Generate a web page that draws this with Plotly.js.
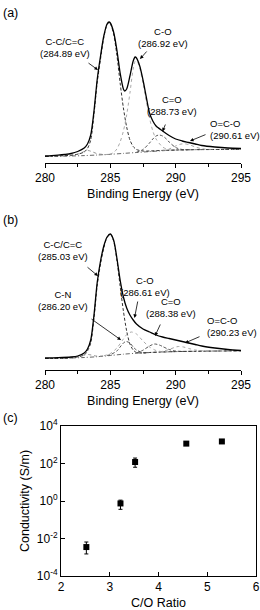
<!DOCTYPE html>
<html><head><meta charset="utf-8">
<script src="https://cdn.plot.ly/plotly-3.0.1.min.js"></script>
<style>html,body{margin:0;padding:0;background:#fff;}#chart{width:260px;height:610px;}</style>
</head><body><div id="chart"></div>
<script>
// ---------- Panel (a) : XPS C1s (intensity, a.u.) ----------
const aEnvE = [280,280.5,281,281.5,282,282.5,283,283.25,283.5,283.75,284,284.25,284.5,284.75,284.9,285,285.25,285.5,285.75,286,286.1,286.25,286.5,286.75,286.9,287,287.25,287.5,287.75,288,288.25,288.5,289,289.5,290,290.5,291,291.5,292,293,294,295];
const aEnvI = [7,7.3,7.8,8.5,9.5,11.5,15,19,28,52,84,107,127,139,141,140,131,113,90,74,72,74,87,102,106,105,97,83,66,50,42,37,32,27.5,24,22,20.5,19,17.5,16,15,14.5];
const aCCE = [280,281,282,282.5,283,283.25,283.5,283.75,284,284.25,284.5,284.75,284.9,285,285.25,285.5,285.75,286,286.25,286.5,286.75,287,287.5,288,289,290,292,295];
const aCCI = [6.5,7,7.8,8.8,11,14.5,23,49,81,104,125.5,138.5,140.5,139.5,129,108,80,55,36,23,16.5,13.5,12,12,12.6,13,13.4,13.7];
const aCOE = [284.5,285,285.25,285.5,285.75,286,286.25,286.5,286.75,286.92,287.1,287.25,287.5,287.75,288,288.25,288.5,289,289.5,290];
const aCOI = [8.3,9,10.5,14,21,32,48,70,94,102,100.5,95,80,62,45,32,24,16,13.2,12.9];
const aCdOE = [287,287.5,288,288.25,288.5,288.73,289,289.25,289.5,290,290.5,291];
const aCdOI = [10.8,13.5,20,24,27,28,27,24.5,21,15.5,13.5,13.2];
const aOCOE = [289,289.5,290,290.3,290.61,291,291.5,292,292.5,293];
const aOCOI = [12.5,14,17,18.6,19.2,18.5,16,14.3,13.6,13.5];
const aLowE = [281.5,282,282.5,283,283.3,283.6,284,284.5,285];
const aLowI = [7.2,7.5,8.8,11.5,12.5,11.3,9.3,8.5,8.7];
const aBgE = [280,282,283,284,285,286,287,288,289,290,291,292,293,295];
const aBgI = [6.5,7,7.4,8,8.7,9.6,10.5,11.4,12.3,12.9,13.2,13.4,13.5,13.7];

// ---------- Panel (b) ----------
const bEnvE = [280,281,282,282.5,283,283.25,283.5,283.75,284,284.25,284.5,284.75,285,285.25,285.5,285.75,286,286.25,286.5,286.75,287,287.5,288,288.5,289,289.5,290,290.5,291,291.5,292,293,294,295];
const bEnvI = [12,12.3,13,14,17,21,30,55,88,109,124,133,136,130,112,90,73,62,55,50,46,41,38,35,33,31.5,30,28.5,27,25.5,24,22,20.5,19.5];
const bCCE = [280,282,283,283.25,283.5,283.75,284,284.25,284.5,284.75,285.03,285.25,285.5,285.75,286,286.25,286.5,286.75,287,287.5,288,290,295];
const bCCI = [11.5,12.1,15,19,27,52,85,106,122,132.5,135.5,129,110,84,59,39,26,20,17.5,17,17.5,18.4,19.2];
const bCNE = [284.75,285,285.5,285.75,286,286.2,286.5,286.75,287,287.5,288];
const bCNI = [14.6,15.3,19,23,27,28.5,27,23,20,17.3,17.5];
const bCOE = [284.5,285,285.5,286,286.3,286.61,287,287.5,288,288.5,289,289.5];
const bCOI = [14.2,16.5,22,31,36,38,36,29,23,19.5,18.3,18.1];
const bCdOE = [287,287.5,288,288.38,288.75,289,289.5,290,290.5,291];
const bCdOI = [17,19.8,24,26,25,23.5,20.5,19,18.6,18.6];
const bOCOE = [288.75,289.5,290,290.23,290.6,291,291.5,292,292.5,293];
const bOCOI = [17.9,20.5,23,23.5,23,21.5,20,19.2,19,19];
const bLowE = [281.5,282,282.5,283,283.3,283.6,284,284.5];
const bLowI = [12,12.3,13.5,15,15.5,14.8,13.8,14];
const bBgE = [280,282,283,284,285,286,287,288,289,290,292,295];
const bBgI = [11.5,12,12.5,13.3,14.5,15.8,16.8,17.5,18,18.4,18.8,19.2];

// ---------- Panel (c) : conductivity vs C/O ----------
const coRatio = [2.52, 3.22, 3.52, 4.57, 5.30];
const conductivity = [3.5e-3, 0.74, 120, 1150, 1500];
const errPlus = [3.0e-3, 0.37, 75, 0, 0];
const errMinus = [2.0e-3, 0.38, 57, 0, 0];
const cTickVals = [1e-4, 1e-2, 1, 1e2, 1e4];
const cTickText = ['10<sup>-4</sup>','10<sup>-2</sup>','10<sup>0</sup>','10<sup>2</sup>','10<sup>4</sup>'];
const xpsTicks = [280, 285, 290, 295];

const W = 260, H = 610;
const FONT = 'Liberation Sans, Arial, Helvetica, sans-serif';
const px = v => v / W, py = v => 1 - v / H;

function line(x, y, xa, ya, color, width, dash) {
  return {x, y, xaxis: xa, yaxis: ya, type: 'scatter', mode: 'lines',
    line: {color, width, dash, shape: 'spline', smoothing: 0.8}, hoverinfo: 'skip', showlegend: false};
}
const traces = [
  line(aBgE, aBgI, 'x', 'y', '#555', 0.9, '4px,2px,1px,2px'),
  line(aLowE, aLowI, 'x', 'y', '#888', 0.9, 'dot'),
  line(aCCE, aCCI, 'x', 'y', '#333', 1, '3px,2px'),
  line(aCOE, aCOI, 'x', 'y', '#aaa', 1, 'dot'),
  line(aCdOE, aCdOI, 'x', 'y', '#444', 0.9, '3px,2px'),
  line(aOCOE, aOCOI, 'x', 'y', '#999', 0.9, 'dot'),
  line(aEnvE, aEnvI, 'x', 'y', '#000', 1.3, 'solid'),

  line(bBgE, bBgI, 'x2', 'y2', '#555', 0.9, '4px,2px,1px,2px'),
  line(bLowE, bLowI, 'x2', 'y2', '#888', 0.9, 'dot'),
  line(bCCE, bCCI, 'x2', 'y2', '#333', 1, '3px,2px'),
  line(bCNE, bCNI, 'x2', 'y2', '#444', 0.9, '3px,2px'),
  line(bCOE, bCOI, 'x2', 'y2', '#aaa', 1, 'dot'),
  line(bCdOE, bCdOI, 'x2', 'y2', '#444', 0.9, '3px,2px'),
  line(bOCOE, bOCOI, 'x2', 'y2', '#999', 0.9, 'dot'),
  line(bEnvE, bEnvI, 'x2', 'y2', '#000', 1.3, 'solid'),

  {x: coRatio, y: conductivity, xaxis: 'x3', yaxis: 'y3', type: 'scatter', mode: 'markers',
   marker: {symbol: 'square', size: 6, color: '#000'},
   error_y: {type: 'data', symmetric: false, array: errPlus, arrayminus: errMinus, color: '#000', thickness: 1, width: 2},
   showlegend: false, hoverinfo: 'skip'}
];

function txt(x, y, t, opts) {
  return Object.assign({xref: 'paper', yref: 'paper', x: px(x), y: py(y), text: t, showarrow: false,
    font: {size: 9.5, family: FONT, color: '#000'}, xanchor: 'center', yanchor: 'middle', align: 'center'}, opts || {});
}
function arr(x0, y0, x1, y1) {
  return {xref: 'paper', yref: 'paper', x: px(x1), y: py(y1), ax: x0 - x1, ay: y0 - y1, axref: 'pixel', ayref: 'pixel',
    text: '', showarrow: true, arrowhead: 2, arrowsize: 0.9, arrowwidth: 0.8, arrowcolor: '#000', standoff: 0, startstandoff: 0};
}
const big = {font: {size: 12.5, family: FONT, color: '#000'}};
const annotations = [
  txt(10, 13, '(a)', big), txt(10, 220, '(b)', big), txt(10, 418, '(c)', big),
  // (a)
  txt(65, 47, 'C-C/C=C<br>(284.89 eV)'), arr(87, 62, 98, 70),
  txt(163, 37.5, 'C-O<br>(286.92 eV)'), arr(148, 50, 140, 59),
  txt(171.5, 105.5, 'C=O<br>(288.73 eV)'), arr(166, 123, 162.5, 131.5),
  txt(208, 129.5, 'O=C-O<br>(290.61 eV)', {xanchor: 'left', align: 'left'}), arr(207, 134, 190, 141),
  // (b)
  txt(63, 250, 'C-C/C=C<br>(285.03 eV)'), arr(86, 266, 98, 276),
  txt(63, 300, 'C-N<br>(286.20 eV)'), arr(90, 318, 121, 340),
  txt(145, 287, 'C-O<br>(286.61 eV)'), arr(138, 300, 134.5, 318),
  txt(171, 307, 'C=O<br>(288.38 eV)'), arr(161, 323, 155, 336),
  txt(205, 326.5, 'O=C-O<br>(290.23 eV)', {xanchor: 'left', align: 'left'}), arr(201, 336, 185, 343)
];

function xpsX(anchor, dom) {
  return {domain: dom, range: [280, 295], anchor, tickmode: 'array', tickvals: xpsTicks,
    ticks: 'outside', ticklen: 4, tickwidth: 1, tickcolor: '#000',
    minor: {tickmode: 'array', tickvals: [282.5, 287.5, 292.5], ticks: 'outside', ticklen: 3, tickwidth: 1, tickcolor: '#000'},
    showline: true, linecolor: '#000', linewidth: 1, showgrid: false, zeroline: false,
    tickfont: {size: 12, family: FONT, color: '#000'},
    title: {text: 'Binding Energy (eV)', font: {size: 12.5, family: FONT, color: '#000'}, standoff: 4}};
}
const layout = {
  width: W, height: H, margin: {l: 0, r: 0, t: 0, b: 0}, paper_bgcolor: '#fff', plot_bgcolor: '#fff',
  font: {family: FONT, color: '#000'},
  xaxis: xpsX('y', [px(45), px(241)]),
  yaxis: {domain: [py(163), py(13)], range: [0, 150], visible: false, fixedrange: true},
  xaxis2: xpsX('y2', [px(45), px(241)]),
  yaxis2: {domain: [py(370), py(220)], range: [0, 150], visible: false, fixedrange: true},
  xaxis3: {domain: [px(61), px(256)], range: [2, 6], anchor: 'y3', dtick: 1, tick0: 2,
    ticks: 'inside', ticklen: 4, tickcolor: '#000', showline: true, mirror: true, linecolor: '#000', linewidth: 1,
    showgrid: false, zeroline: false, tickfont: {size: 12, family: FONT, color: '#000'},
    title: {text: 'C/O Ratio', font: {size: 12.5, family: FONT, color: '#000'}, standoff: 8}},
  yaxis3: {domain: [py(576), py(426)], type: 'log', range: [-4, 4], anchor: 'x3',
    tickmode: 'array', tickvals: cTickVals, ticktext: cTickText,
    ticks: 'inside', ticklen: 4, tickcolor: '#000', showline: true, mirror: true, linecolor: '#000', linewidth: 1,
    showgrid: false, zeroline: false, tickfont: {size: 12, family: FONT, color: '#000'},
    title: {text: 'Conductivity (S/m)', font: {size: 12.5, family: FONT, color: '#000'}, standoff: 4}},
  annotations
};
Plotly.newPlot('chart', traces, layout, {staticPlot: true, displayModeBar: false});
</script></body></html>
